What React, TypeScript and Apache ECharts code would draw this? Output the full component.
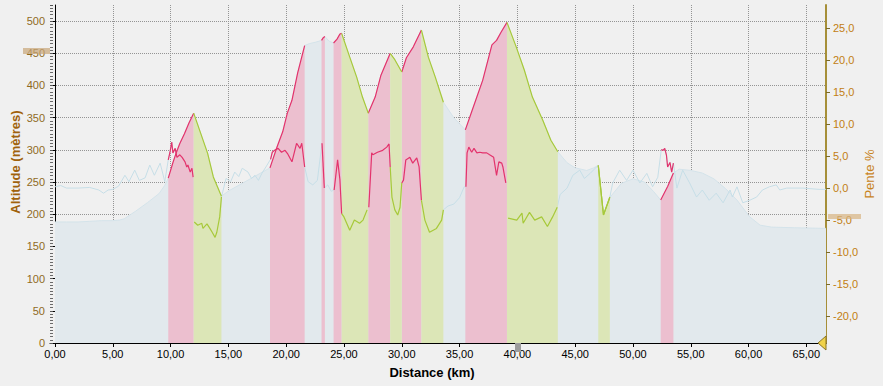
import React, { useEffect, useRef } from 'react';
import * as echarts from 'echarts';

// Distance (km) / altitude (m)
const altitude: [number, number][] = [
  [0, 188], [1, 188], [2, 188], [3, 189], [4, 190], [5, 190], [5.6, 191], [6, 193], [7, 205], [8, 218], [9, 232], [9.5, 245],
  [9.8, 256], [10.2, 280], [10.5, 296], [10.8, 310], [11.2, 325], [11.6, 342], [12.0, 357],
  [12.6, 326], [13.2, 295], [13.7, 258], [14.4, 228],
  [15, 236], [16, 246], [17, 256], [18, 266], [18.6, 272],
  [19.2, 304], [19.7, 328], [20.1, 357], [20.5, 377], [21.0, 420], [21.6, 462],
  [22.0, 465], [22.5, 467], [23.06, 470], [23.2, 474], [23.35, 476], [23.7, 469], [24.1, 466],
  [24.4, 472], [24.65, 480], [24.8, 481],
  [25.5, 444], [26.1, 413], [26.6, 382], [27.1, 357],
  [27.7, 382], [28.2, 416], [29.0, 450],
  [29.4, 440], [30.0, 421],
  [30.4, 443], [31.0, 460], [31.7, 486],
  [32.3, 444], [32.9, 413], [33.6, 374],
  [34.5, 350], [35.5, 331],
  [36.1, 362], [37.0, 408], [37.8, 463], [38.2, 470], [38.6, 483], [39.1, 498],
  [39.9, 460], [40.6, 424], [41.3, 382], [42.2, 346], [42.9, 315], [43.5, 297],
  [44.3, 280], [45, 272], [46, 268], [46.6, 272], [47.0, 276],
  [47.45, 199], [48.0, 226],
  [49, 248], [50, 255], [51, 250], [51.8, 235], [52.4, 222],
  [53.0, 243], [53.5, 264],
  [54, 270], [55, 268], [56, 264], [57, 255], [58, 240], [59, 222], [60.1, 196], [61, 183], [62, 180], [64, 179], [66.7, 178],
];

// Distance (km) / pente (%)
const pente: [number, number][] = [
  [0, 0.2], [0.5, 0.4], [1, 0], [2, 0], [3, 0.1], [3.8, -0.3], [4.2, -0.8], [4.6, -0.3], [5, -0.2], [5.5, 0.3],
  [6.05, 2], [6.4, 1], [6.9, 2.8], [7.3, 1.2], [7.8, 1.6], [8.2, 3.6], [8.6, 2], [9.1, 3.9], [9.5, 1],
  [9.8, 4.4], [9.95, 5.6], [10.1, 7.2], [10.2, 5.5], [10.4, 6.2], [10.55, 4.8], [10.8, 5.2], [11.0, 4.8], [11.25, 4.1], [11.4, 3.3], [11.5, 3.6], [11.7, 2.5], [11.85, 3.1], [11.95, 1.7],
  [12.05, -5.3], [12.35, -5.8], [12.7, -5.5], [12.8, -6.3], [13.15, -5.6], [13.4, -6.3], [13.6, -6.9], [13.85, -7.7], [14.0, -6.9], [14.25, -4.5], [14.4, -1.4],
  [14.8, 1.5], [15.2, 1.0], [15.55, 2.5], [15.9, 1.8], [16.2, 3.1], [16.7, 2.5], [17.0, 1.5], [17.3, 2.0], [17.6, 1.2], [17.9, 2.3], [18.35, 3.6],
  [18.65, 4.5], [18.8, 5.6], [19.0, 5.9], [19.3, 6.2], [19.6, 5.6], [19.9, 5.9], [20.15, 5.3], [20.5, 4.1], [20.75, 5.9], [20.9, 7.0], [21.2, 6.2], [21.35, 7.0], [21.6, 3.3],
  [21.9, 1.0], [22.3, 0.5], [22.7, 1.2],
  [23.1, 7.0], [23.3, 0.0],
  [23.6, 0.5], [23.9, -0.5],
  [24.15, -0.3], [24.45, 4.4], [24.65, 1.3], [24.8, -4.0],
  [25.0, -4.5], [25.5, -6.6], [25.9, -5.0], [26.35, -5.5], [26.65, -5.0], [27.0, -3.4],
  [27.15, -3.0], [27.4, 5.5], [27.5, 5.2], [27.9, 5.6], [28.35, 5.9], [28.7, 6.4], [28.9, 6.9], [29.0, 3.3],
  [29.15, -1.4], [29.4, -3.4], [29.65, -4.2], [29.85, -3.0], [30.0, 0.8],
  [30.15, 1.25], [30.35, 4.4], [30.7, 4.8], [30.95, 3.9], [31.3, 4.7], [31.5, 3.3], [31.7, -1.9],
  [32.0, -5.0], [32.4, -6.9], [33.0, -6.3], [33.45, -5.0], [33.6, -3.4],
  [34.0, -2.8], [34.5, -2.5], [35.0, -1.5], [35.4, 0.2],
  [35.55, 0.2], [35.65, 5.5], [35.8, 6.4], [36.05, 5.6], [36.25, 6.2], [36.5, 5.5], [36.75, 5.6], [37.0, 5.5], [37.35, 5.5], [37.6, 5.2], [37.95, 4.8], [38.2, 2.0], [38.4, 4.1], [38.65, 3.9], [38.75, 3.3], [39.0, 0.8],
  [39.2, -4.7], [39.95, -5.0], [40.4, -3.9], [40.5, -5.5], [41.05, -3.8], [41.5, -5.0], [42.1, -4.5], [42.6, -6.0], [43.05, -4.5], [43.45, -3.0],
  [43.7, -1.0], [44.3, 0], [44.8, 2.0], [45.4, 2.8], [45.8, 1.5], [46.3, 2.3], [46.85, 3.3],
  [47.0, 3.5], [47.45, -4.2], [48.0, -1.4],
  [48.25, 0.8], [48.85, 2.8], [49.45, 1.2], [50.0, 2.8], [50.6, 0.8], [51.2, 2.3], [51.7, 0.2], [52.15, 1.7],
  [52.45, 6.0], [52.6, 5.9], [52.75, 6.2], [52.9, 5.1], [53.0, 3.3], [53.2, 4.0], [53.35, 2.5], [53.5, 3.9],
  [53.8, 0], [54.3, 2.8], [54.9, 0.8], [55.5, -1.4], [56.0, -0.3], [56.6, -1.9], [57.2, -0.8], [57.8, -2.3], [58.4, -0.3], [58.6, -1.4], [59.0, 0.2], [59.5, -2.3], [60.1, -1.9], [60.7, -1.4], [61.2, -0.3], [61.8, 0.2], [62.4, 0.5], [62.7, -0.3], [63.3, 0], [64.7, 0], [66.1, -0.2], [66.7, -0.2],
];

// Highlighted segments (km)
const climbs: [number, number][] = [
  [9.8, 12.0], [18.6, 21.6], [23.06, 23.35], [24.1, 24.8], [27.1, 29.0], [30.0, 31.7], [35.5, 39.1], [52.4, 53.5],
];
const descents: [number, number][] = [
  [12.0, 14.4], [24.8, 27.1], [29.0, 30.0], [31.7, 33.6], [39.1, 43.5], [47.0, 48.0],
];

const X_MIN = -0.43;
const X_MAX = 66.7;

const PINK_FILL = '#ecbfcf';
const PINK_LINE = '#e3336c';
const GREEN_FILL = '#dce6b7';
const GREEN_LINE = '#a7c93a';
const FONT = 'Liberation Sans, Arial, sans-serif';

function pick(data: [number, number][], a: number, b: number) {
  return data.filter(([x]) => x >= a - 1e-9 && x <= b + 1e-9);
}

const isMult = (v: number, m: number) => Math.abs(v / m - Math.round(v / m)) < 1e-6;

export default function App() {
  const ref = useRef<HTMLDivElement>(null);
  useEffect(() => {
    if (!ref.current) return;
    const chart = echarts.init(ref.current, null, { renderer: 'svg' });
    const series: any[] = [
      {
        type: 'line', xAxisIndex: 0, yAxisIndex: 0, data: altitude, showSymbol: false, z: 1,
        lineStyle: { color: '#d4e3ea', width: 1 }, areaStyle: { color: '#e2e9ed', opacity: 1 },
      },
      {
        type: 'line', xAxisIndex: 0, yAxisIndex: 2, data: pente, showSymbol: false, z: 2,
        lineStyle: { color: '#c6dee7', width: 1 },
      },
    ];
    const addSegs = (segs: [number, number][], fill: string, line: string) => {
      segs.forEach(([a, b]) => {
        series.push({
          type: 'line', xAxisIndex: 0, yAxisIndex: 0, data: pick(altitude, a, b), showSymbol: false, z: 3,
          lineStyle: { color: line, width: 1.2 }, areaStyle: { color: fill, opacity: 1 },
        });
      });
      segs.forEach(([a, b]) => {
        series.push({
          type: 'line', xAxisIndex: 0, yAxisIndex: 2, data: pick(pente, a, b), showSymbol: false, z: 4,
          lineStyle: { color: line, width: 1.2 },
        });
      });
    };
    addSegs(climbs, PINK_FILL, PINK_LINE);
    addSegs(descents, GREEN_FILL, GREEN_LINE);

    const gridLine = { show: true, lineStyle: { color: '#949494', type: [1, 1] as any, width: 1 } };

    chart.setOption({
      animation: false,
      backgroundColor: '#f0f0f0',
      grid: { left: 50, right: 57, top: 5, bottom: 43, containLabel: false },
      xAxis: [{
        type: 'value', min: X_MIN, max: X_MAX, splitNumber: 13, minInterval: 5, maxInterval: 5,
        axisLine: { show: true, onZero: false, lineStyle: { color: '#000', width: 1 } },
        axisTick: { show: true, length: 4, lineStyle: { color: '#000' } },
        axisLabel: {
          color: '#000', fontFamily: FONT, fontSize: 11, margin: 5, showMinLabel: false, showMaxLabel: false,
          formatter: (v: number) => (v >= 0 && isMult(v, 5) ? v.toFixed(2).replace('.', ',') : ''),
        },
        splitLine: { ...gridLine, showMinLine: false, showMaxLine: false },
      }],
      yAxis: [
        {
          type: 'value', position: 'left', min: 0, max: 525, interval: 50,
          axisLine: { show: true, lineStyle: { color: '#000', width: 1 } },
          axisTick: { show: true, length: 4, lineStyle: { color: '#000' } },
          axisLabel: {
            color: '#8f6a1e', fontFamily: FONT, fontSize: 11, margin: 5, showMaxLabel: false,
            formatter: (v: number) => (isMult(v, 50) ? String(v) : ''),
          },
          splitLine: { ...gridLine, showMinLine: false, showMaxLine: false },
        },
        {
          type: 'value', position: 'left', min: 0, max: 525, interval: 50,
          axisLine: { show: false },
          axisTick: { show: true, inside: true, length: 3, lineStyle: { color: '#555' } },
          minorTick: { show: true, splitNumber: 10, length: 3, lineStyle: { color: '#6a6a6a' } },
          axisLabel: { show: false },
          splitLine: { show: false },
        },
        {
          type: 'value', position: 'right', min: -24.2, max: 28.6, splitNumber: 10, minInterval: 5, maxInterval: 5,
          axisLine: { show: true, lineStyle: { color: '#a68f38', width: 2 } },
          axisTick: { show: true, length: 4, lineStyle: { color: '#7a6a2a' } },
          axisLabel: {
            color: '#c27e12', fontFamily: FONT, fontSize: 11, margin: 7, showMinLabel: false, showMaxLabel: false,
            formatter: (v: number) => (isMult(v, 5) ? v.toFixed(1).replace('.', ',') : ''),
          },
          splitLine: { show: false },
        },
      ],
      series,
      graphic: [
        { type: 'rect', shape: { x: 23, y: 48, width: 27, height: 6 }, style: { fill: 'rgba(200,165,120,0.7)' }, z: 100 },
        { type: 'rect', shape: { x: 828, y: 214, width: 33, height: 5 }, style: { fill: 'rgba(215,180,130,0.7)' }, z: 100 },
        { type: 'rect', shape: { x: 515, y: 343, width: 6, height: 9 }, style: { fill: '#9c9c9c' }, z: 100 },
        { type: 'polygon', shape: { points: [[826, 336], [818, 343], [826, 350]] }, style: { fill: '#f0d24a', stroke: '#8a7426', lineWidth: 1 }, z: 100 },
        {
          type: 'text', x: 15, y: 162, rotation: Math.PI / 2, z: 100,
          style: { text: 'Altitude (mètres)', fill: '#a0620c', font: `bold 13px ${FONT}`, align: 'center', verticalAlign: 'middle' },
        },
        {
          type: 'text', x: 869, y: 174, rotation: Math.PI / 2, z: 100,
          style: { text: 'Pente %', fill: '#c8841e', font: `13px ${FONT}`, align: 'center', verticalAlign: 'middle' },
        },
        {
          type: 'text', x: 432, y: 372, z: 100,
          style: { text: 'Distance (km)', fill: '#000', font: `bold 13px ${FONT}`, align: 'center', verticalAlign: 'middle' },
        },
      ],
    });
    return () => chart.dispose();
  }, []);
  return (
    <div
      ref={ref}
      style={{ position: 'absolute', left: 0, top: 0, width: 883, height: 386, background: '#f0f0f0' }}
    />
  );
}
